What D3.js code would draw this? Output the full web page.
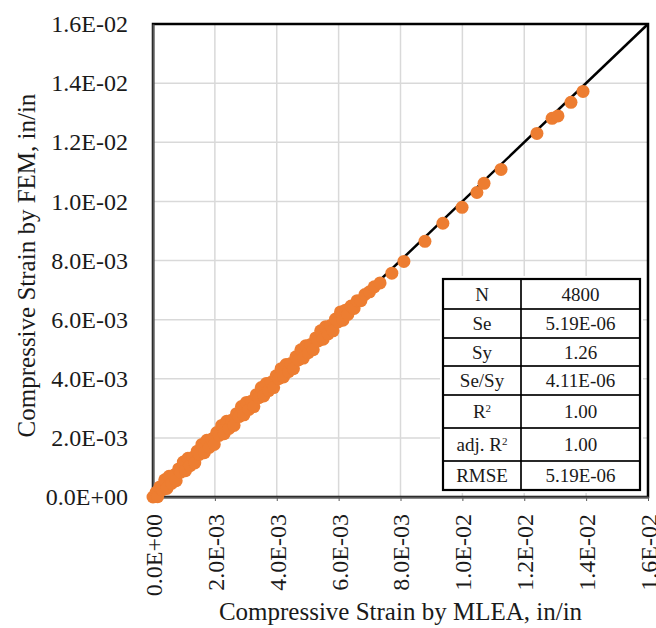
<!DOCTYPE html>
<html>
<head>
  <title>Compressive Strain: FEM vs MLEA</title>
  <script src="https://d3js.org/d3.v7.min.js"></script>
  <style>
    body { margin: 0; background: #fff; }
  </style>
</head>
<body>
<svg width="656" height="628"></svg>
<script>
  // Strain (in/in): MLEA on x, FEM on y
  const mleaStrain = [
    0.00000, 0.00005, 0.00010, 0.00015, 0.00022, 0.00030, 0.00038, 0.00045, 0.00052, 0.00060,
    0.00068, 0.00075, 0.00083, 0.00090, 0.00098, 0.00105, 0.00113, 0.00120, 0.00128, 0.00135,
    0.00143, 0.00150, 0.00158, 0.00166, 0.00174, 0.00182, 0.00190, 0.00198, 0.00206, 0.00214,
    0.00222, 0.00230, 0.00238, 0.00246, 0.00254, 0.00262, 0.00270, 0.00278, 0.00286, 0.00294,
    0.00302, 0.00310, 0.00318, 0.00326, 0.00334, 0.00342, 0.00350, 0.00358, 0.00366, 0.00374,
    0.00382, 0.00390, 0.00398, 0.00406, 0.00414, 0.00422, 0.00430, 0.00438, 0.00446, 0.00454,
    0.00462, 0.00470, 0.00478, 0.00486, 0.00494, 0.00502, 0.00510, 0.00518, 0.00526, 0.00534,
    0.00542, 0.00550, 0.00558, 0.00566, 0.00574, 0.00582, 0.00590, 0.00598, 0.00606, 0.00614,
    0.00622, 0.00630, 0.00640, 0.00650, 0.00660, 0.00672, 0.00685, 0.00700, 0.00715, 0.00734,
    0.00772, 0.00811, 0.00879, 0.00937, 0.00999, 0.01047, 0.01070, 0.01125,
    0.01241, 0.01290, 0.01309, 0.01351, 0.01390
  ];
  const femStrain = [
    0.00000, 0.00002, 0.00016, 0.00001, 0.00034, 0.00024, 0.00058, 0.00029, 0.00070, 0.00046,
    0.00074, 0.00055, 0.00095, 0.00084, 0.00118, 0.00089, 0.00131, 0.00106, 0.00134, 0.00115,
    0.00155, 0.00144, 0.00178, 0.00150, 0.00192, 0.00168, 0.00196, 0.00178, 0.00218, 0.00208,
    0.00242, 0.00214, 0.00256, 0.00232, 0.00260, 0.00242, 0.00282, 0.00272, 0.00306, 0.00278,
    0.00320, 0.00296, 0.00324, 0.00306, 0.00346, 0.00336, 0.00370, 0.00342, 0.00384, 0.00360,
    0.00388, 0.00370, 0.00410, 0.00400, 0.00434, 0.00406, 0.00448, 0.00424, 0.00452, 0.00434,
    0.00474, 0.00464, 0.00498, 0.00470, 0.00512, 0.00488, 0.00516, 0.00498, 0.00538, 0.00528,
    0.00562, 0.00534, 0.00576, 0.00552, 0.00580, 0.00562, 0.00602, 0.00592, 0.00626, 0.00598,
    0.00632, 0.00618, 0.00646, 0.00638, 0.00664, 0.00664, 0.00685, 0.00694, 0.00711, 0.00724,
    0.00757, 0.00797, 0.00865, 0.00926, 0.00980, 0.01030, 0.01061, 0.01108,
    0.01230, 0.01281, 0.01289, 0.01335, 0.01372
  ];

  const axisTicks = [0, 0.002, 0.004, 0.006, 0.008, 0.010, 0.012, 0.014, 0.016];
  const lineOfEquality = [0, 0.016];

  const statNames = ["N", "Se", "Sy", "Se/Sy", "R2", "adj. R2", "RMSE"];
  const statValues = ["4800", "5.19E-06", "1.26", "4.11E-06", "1.00", "1.00", "5.19E-06"];

  const serif = "Liberation Serif";

  const margin = {top: 24, right: 8, bottom: 131, left: 153},
    width = 656 - margin.left - margin.right,
    height = 628 - margin.top - margin.bottom;

  const fmt = v => {
    const s = v.toExponential(1).toUpperCase();   // e.g. 1.6E-2
    return s.replace(/E([+-])(\d)$/, "E$10$2");
  };

  const svg = d3.select("svg")
    .append("g")
    .attr("transform", "translate(" + margin.left + "," + margin.top + ")");

  const x = d3.scaleLinear().domain([0, 0.016]).range([0, width]);
  const y = d3.scaleLinear().domain([0, 0.016]).range([height, 0]);

  // gridlines
  svg.append("g")
    .selectAll("line")
    .data(axisTicks)
    .join("line")
      .attr("x1", d => x(d)).attr("x2", d => x(d))
      .attr("y1", 0).attr("y2", height)
      .attr("stroke", "#d9d9d9").attr("stroke-width", 1.5);
  svg.append("g")
    .selectAll("line")
    .data(axisTicks)
    .join("line")
      .attr("y1", d => y(d)).attr("y2", d => y(d))
      .attr("x1", 0).attr("x2", width)
      .attr("stroke", "#d9d9d9").attr("stroke-width", 1.5);

  // plot area border
  svg.append("rect")
    .attr("width", width).attr("height", height)
    .attr("fill", "none").attr("stroke", "#000").attr("stroke-width", 2.5);

  // X axis
  const xAxis = svg.append("g")
    .attr("transform", "translate(0," + height + ")")
    .call(d3.axisBottom(x).tickValues(axisTicks).tickFormat(fmt).tickSize(4).tickSizeOuter(0));
  xAxis.select(".domain").attr("stroke", "#595959").attr("stroke-width", 2);
  xAxis.selectAll(".tick line").attr("stroke", "#595959");
  xAxis.selectAll(".tick text")
    .attr("transform", "rotate(-90)")
    .attr("x", -17).attr("y", 0).attr("dy", "0.35em")
    .attr("text-anchor", "end");

  // Y axis
  const yAxis = svg.append("g")
    .call(d3.axisLeft(y).tickValues(axisTicks).tickFormat(fmt).tickSize(0).tickPadding(25));
  yAxis.select(".domain").attr("stroke", "#595959").attr("stroke-width", 2);

  xAxis.attr("font-family", serif).attr("font-size", 24);
  yAxis.attr("font-family", serif).attr("font-size", 24);
  svg.selectAll(".tick text")
    .attr("font-family", serif)
    .style("font-family", serif)
    .style("font-size", "24px")
    .attr("fill", "#1a1a1a");

  // 1:1 line
  svg.append("line")
    .attr("x1", x(lineOfEquality[0])).attr("y1", y(lineOfEquality[0]))
    .attr("x2", x(lineOfEquality[1])).attr("y2", y(lineOfEquality[1]))
    .attr("stroke", "#000").attr("stroke-width", 2.5);

  // points
  svg.append("g")
    .selectAll("circle")
    .data(d3.zip(mleaStrain, femStrain))
    .join("circle")
      .attr("cx", d => x(d[0]))
      .attr("cy", d => y(d[1]))
      .attr("r", 6.5)
      .attr("fill", "#ED7D31");

  // axis titles
  svg.append("text")
    .attr("x", width / 2).attr("y", height + 123)
    .attr("text-anchor", "middle")
    .attr("font-family", serif)
    .style("font-family", serif)
    .style("font-size", "25px").attr("fill", "#1a1a1a")
    .text("Compressive Strain by MLEA, in/in");
  svg.append("text")
    .attr("transform", "translate(" + (-118) + "," + (height / 2 + 5) + ") rotate(-90)")
    .attr("text-anchor", "middle")
    .attr("font-family", serif)
    .style("font-family", serif)
    .style("font-size", "25px").attr("fill", "#1a1a1a")
    .text("Compressive Strain by FEM, in/in");

  // statistics table
  const tbl = {x: 290, y: 255, c1: 78, c2: 119};
  const rowHeights = [30, 29, 28, 29, 33, 33, 29];
  const rowTops = rowHeights.map((h, i) => d3.sum(rowHeights.slice(0, i)));
  const tblH = d3.sum(rowHeights);

  const table = svg.append("g").attr("transform", "translate(" + tbl.x + "," + tbl.y + ")");
  table.append("rect")
    .attr("x", -3).attr("y", -3)
    .attr("width", tbl.c1 + tbl.c2 + 6).attr("height", tblH + 6)
    .attr("fill", "#fff");

  const rows = table.selectAll("g")
    .data(statNames)
    .join("g")
      .attr("transform", (d, i) => "translate(0," + rowTops[i] + ")");
  rows.append("rect")
    .attr("width", tbl.c1).attr("height", (d, i) => rowHeights[i])
    .attr("fill", "none").attr("stroke", "#000").attr("stroke-width", 1.2);
  rows.append("rect")
    .attr("x", tbl.c1)
    .attr("width", tbl.c2).attr("height", (d, i) => rowHeights[i])
    .attr("fill", "none").attr("stroke", "#000").attr("stroke-width", 1.2);

  rows.append("text")
    .attr("x", tbl.c1 / 2)
    .attr("y", (d, i) => rowHeights[i] / 2)
    .attr("dy", "0.35em")
    .attr("text-anchor", "middle")
    .attr("font-family", serif)
    .style("font-family", serif)
    .style("font-size", "19px").attr("fill", "#1a1a1a")
    .each(function(d) {
      const t = d3.select(this);
      if (d.endsWith("R2")) {
        t.append("tspan").text(d.slice(0, -1));
        t.append("tspan").attr("dy", "-0.55em").style("font-size", "11px").text("2");
      } else {
        t.text(d);
      }
    });
  rows.append("text")
    .attr("x", tbl.c1 + tbl.c2 / 2)
    .attr("y", (d, i) => rowHeights[i] / 2)
    .attr("dy", "0.35em")
    .attr("text-anchor", "middle")
    .attr("font-family", serif)
    .style("font-family", serif)
    .style("font-size", "19px").attr("fill", "#1a1a1a")
    .text((d, i) => statValues[i]);

  table.append("rect")
    .attr("width", tbl.c1 + tbl.c2).attr("height", tblH)
    .attr("fill", "none").attr("stroke", "#000").attr("stroke-width", 2.2);
</script>
</body>
</html>
